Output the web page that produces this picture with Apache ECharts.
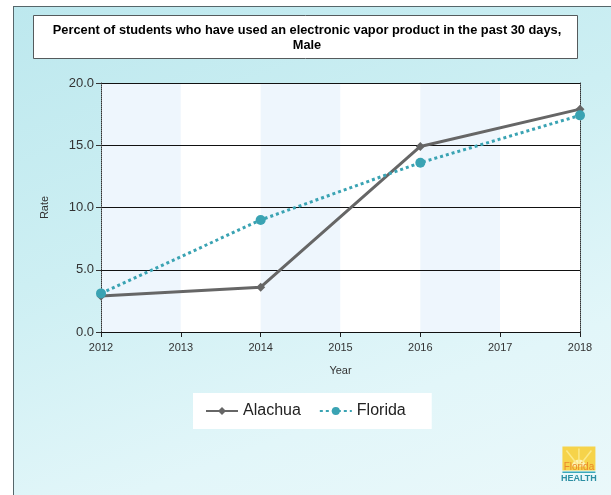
<!DOCTYPE html>
<html>
<head>
<meta charset="utf-8">
<script src="https://cdn.jsdelivr.net/npm/echarts@6/dist/echarts.min.js"></script>
<style>
  html, body { margin: 0; padding: 0; background: #fff; }
  #frame {
    position: absolute; left: 13px; top: 6px; width: 598px; height: 489px;
    border-left: 1px solid #56666a; border-top: 1px solid #56666a;
    background: linear-gradient(160deg, #bde8ee 0%, #cdeff3 40%, #e2f6f9 75%, #eaf8fa 100%);
  }
  #chart { position: absolute; left: 0; top: 0; width: 611px; height: 495px; }
</style>
</head>
<body>
<div id="frame"></div>
<div id="chart"></div>
<script>
// Survey years and rates (%) of past-30-day electronic vapor product use, males
const years = ['2012', '2013', '2014', '2015', '2016', '2017', '2018'];
const alachua = [2.9, null, 3.6, null, 14.9, null, 17.9];
const florida = [3.1, null, 9.0, null, 13.6, null, 17.4];
const yTicks = [0, 5, 10, 15, 20];

const titleLines = ['Percent of students who have used an electronic vapor product in the past 30 days,', 'Male'];
const FONT = '"Liberation Sans", Arial, sans-serif';

const chart = echarts.init(document.getElementById('chart'), null, { renderer: 'canvas' });

chart.setOption({
  backgroundColor: 'transparent',
  animation: false,
  textStyle: { fontFamily: FONT },
  grid: {
    left: 101, right: 31, top: 83, bottom: 163,
    show: true, backgroundColor: '#ffffff', borderWidth: 0
  },
  graphic: [
    {
      type: 'rect', left: 33, top: 15, z: 0,
      shape: { width: 544, height: 43 },
      style: { fill: '#ffffff', stroke: '#555a5c', lineWidth: 1 }
    },
    {
      type: 'text', x: 307, y: 23, z: 1,
      style: {
        text: titleLines.join('\n'), align: 'center', verticalAlign: 'top',
        font: 'bold 12.8px ' + FONT, fill: '#000', lineHeight: 15
      }
    },
    // Florida Health logo
    {
      type: 'group', left: 561, top: 446, z: 1,
      children: [
        { type: 'rect', shape: { x: 0, y: 0, width: 33, height: 24 }, style: { fill: '#f6d34a' } },
        { type: 'sector', shape: { cx: 16.5, cy: 20, r0: 0, r: 7, startAngle: Math.PI, endAngle: 2 * Math.PI }, style: { fill: '#fdf2b5' } },
        { type: 'polyline', shape: { points: [[16.5, 20], [4, 4]] }, style: { stroke: '#fbe98a', lineWidth: 1.5 } },
        { type: 'polyline', shape: { points: [[16.5, 20], [16.5, 2]] }, style: { stroke: '#fbe98a', lineWidth: 1.5 } },
        { type: 'polyline', shape: { points: [[16.5, 20], [29, 4]] }, style: { stroke: '#fbe98a', lineWidth: 1.5 } },
        { type: 'text', x: 16.5, y: 16, style: { text: 'Florida', align: 'center', verticalAlign: 'top', font: '10px ' + FONT, fill: '#e98a2a' } },
        { type: 'rect', shape: { x: 0, y: 25, width: 33, height: 1.5 }, style: { fill: '#3aa8b8' } },
        { type: 'text', x: 16.5, y: 28, style: { text: 'HEALTH', align: 'center', verticalAlign: 'top', font: 'bold 9px ' + FONT, fill: '#2d8fa3' } }
      ]
    }
  ],
  legend: {
    data: ['Alachua', 'Florida'],
    left: 193, top: 393,
    backgroundColor: '#ffffff',
    padding: [10, 26, 10, 12],
    itemGap: 18, itemWidth: 32, itemHeight: 10,
    textStyle: { fontSize: 16, color: '#222', fontFamily: FONT }
  },
  xAxis: {
    type: 'category', data: years, boundaryGap: false, z: 1,
    name: 'Year', nameLocation: 'middle', nameGap: 33,
    nameTextStyle: { fontSize: 11, color: '#333' },
    axisLine: { lineStyle: { color: '#222', width: 1 } },
    axisTick: { show: true, length: 5, alignWithLabel: true, lineStyle: { color: '#222' } },
    axisLabel: { fontSize: 11, color: '#333', margin: 10, interval: 0 },
    splitLine: { show: false },
    splitArea: { show: true, interval: 0, areaStyle: { color: ['#eef6fd', '#ffffff'] } }
  },
  yAxis: [
    {
      type: 'value', min: 0, max: 20, interval: 5, z: 2,
      name: 'Rate', nameLocation: 'middle', nameGap: 51, nameRotate: 90,
      nameTextStyle: { fontSize: 11, color: '#333' },
      axisLine: { show: true, lineStyle: { color: '#333', type: 'dotted', width: 1 } },
      axisTick: { show: true, length: 5, lineStyle: { color: '#333' } },
      axisLabel: { fontSize: 13, color: '#333', margin: 7, formatter: v => yTicks.includes(v) ? v.toFixed(1) : '' },
      splitLine: { show: true, lineStyle: { color: '#111', width: 1 } }
    },
    {
      type: 'value', min: 0, max: 20, interval: 5, position: 'right', z: 2,
      axisLine: { show: true, lineStyle: { color: '#333', type: 'dotted', width: 1 } },
      axisTick: { show: false }, axisLabel: { show: false }, splitLine: { show: false }
    }
  ],
  series: [
    {
      name: 'Alachua', type: 'line', data: alachua, connectNulls: true,
      symbol: 'diamond', symbolSize: 9, showAllSymbol: true,
      itemStyle: { color: '#666666' },
      lineStyle: { color: '#666666', width: 3 },
      z: 3
    },
    {
      name: 'Florida', type: 'line', data: florida, connectNulls: true,
      symbol: 'circle', symbolSize: 10, showAllSymbol: true,
      itemStyle: { color: '#3aa3b3' },
      lineStyle: { color: '#3aa3b3', width: 3, type: [3, 3] },
      z: 4
    }
  ]
});
</script>
</body>
</html>
